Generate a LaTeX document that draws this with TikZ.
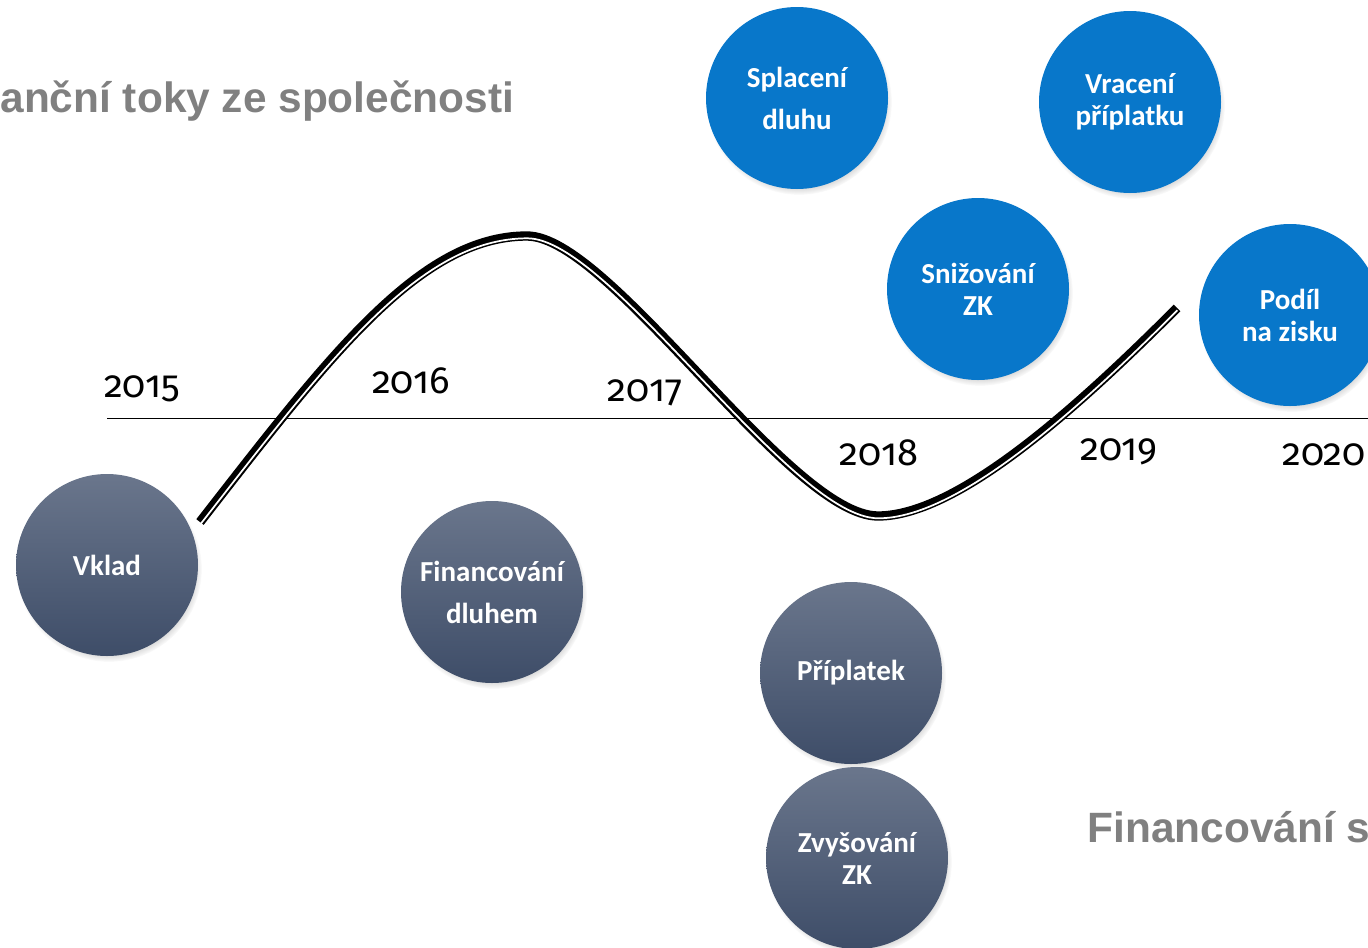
\documentclass[tikz,border=0pt]{standalone}
\usepackage{fontspec}
\setmainfont{Carlito}
\newfontfamily\yearfont[Numbers=OldStyle]{Fira Sans}
\newfontfamily\headfont{Liberation Sans}
\usetikzlibrary{shadows}

\definecolor{flowblue}{RGB}{8,119,202}
\definecolor{slatetop}{RGB}{106,118,140}
\definecolor{slatebot}{RGB}{62,77,104}
\definecolor{headgray}{RGB}{128,128,128}

\tikzset{every picture/.style={line width=0.75pt}}
\tikzset{
	flowcirc/.style={circle, minimum size=136.5pt, inner sep=0pt, align=center, text=white,
		font=\bfseries\fontsize{21.75}{24}\selectfont,
		circular drop shadow={shadow xshift=1.5pt, shadow yshift=-3pt, shadow scale=1.02, opacity=0.55}},
	outflow/.style={flowcirc, fill=flowblue},
	inflow/.style={flowcirc, top color=slatetop, bottom color=slatebot},
	yearlbl/.style={anchor=base, font=\yearfont\fontsize{28.5}{30}\selectfont},
	headlbl/.style={anchor=base west, text=headgray, font=\headfont\bfseries\fontsize{31.8}{34}\selectfont, inner sep=0pt}
}

\begin{document}
\begin{tikzpicture}[x=0.75pt,y=0.75pt,yscale=-1,xscale=1]
	\path[use as bounding box] (0,0) rectangle (1368,947);
	\clip (0,0) rectangle (1368,947);

	% Text Node
	\draw (0,112) node[headlbl] (toptitle) {anční toky ze společnosti};
	% Text Node
	\draw (1087,842) node[headlbl] (bottitle) {Financování s};

	%Straight Lines [id:axis]
	\coordinate (axisl) at (107,418);
	\coordinate (axisr) at (1368,418);
	\draw (axisl) -- (axisr);

	%Curve: thick and thin line
	\draw [line width=7pt, line cap=butt] (200,522) .. controls (330,355) and (420,236) .. (527,236) .. controls (610,236) and (790,516) .. (878,516) .. controls (960,516) and (1085,400) .. (1177,308);
	\draw [white, line width=1.3pt, shift={(0.4,2.3)}] (200,522) .. controls (330,355) and (420,236) .. (527,236) .. controls (610,236) and (790,516) .. (878,516) .. controls (960,516) and (1085,400) .. (1177,308);

	% Years
	\draw (142,397) node[yearlbl] (y15) {2015};
	\draw (411,393) node[yearlbl] (y16) {2016};
	\draw (645,401) node[yearlbl] (y17) {2017};
	\draw (879,465) node[yearlbl] (y18) {2018};
	\draw (1119,460) node[yearlbl] (y19) {2019};
	\draw (1324,465) node[yearlbl] (y20) {2020};

	%Shape: Circle, outflows
	\draw (797,98) node[outflow, font=\bfseries\fontsize{21.75}{31.5}\selectfont] (splaceni) {Splacení\\dluhu};
	\draw (1130,102) node[outflow] (vraceni) {Vracení\\příplatku};
	\draw (978,289) node[outflow] (snizovani) {Snižování\\ZK};
	\draw (1290,315) node[outflow] (podil) {Podíl\\na zisku};

	%Shape: Circle, inflows
	\draw (107,565) node[inflow] (vklad) {Vklad};
	\draw (492,592) node[inflow, font=\bfseries\fontsize{21.75}{31.5}\selectfont] (dluh) {Financování\\dluhem};
	\draw (851,673) node[inflow] (priplatek) {Příplatek};
	\draw (857,858) node[inflow] (zvysovani) {Zvyšování\\ZK};

\end{tikzpicture}
\end{document}
